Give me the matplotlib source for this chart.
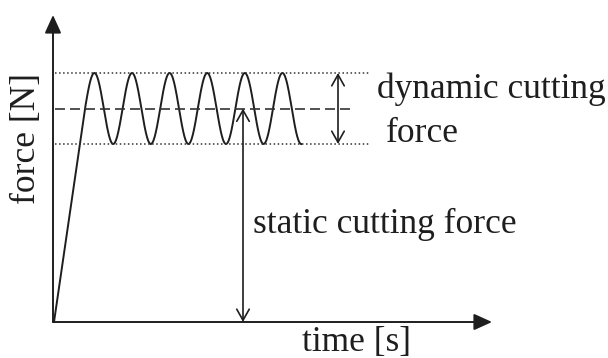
import numpy as np
import matplotlib.pyplot as plt

# schematic cutting force signal (arbitrary units)
ramp_time = [1, 32]          # start / end of the force build-up
static_force = 213.5         # mean (static) cutting force
dynamic_amp = 35.5           # amplitude of the dynamic part
period = 37.6                # oscillation period
n_periods = 5.75             # oscillations shown after the ramp
t_max, f_max = 439, 307      # axis lengths

plt.rcParams['font.family'] = ['Liberation Serif', 'DejaVu Serif']

fig = plt.figure(figsize=(6.08, 3.58), dpi=100)
ax = fig.add_axes([53 / 608, 36 / 358, 439 / 608, 307 / 358])
ax.set_xlim(0, t_max)
ax.set_ylim(0, f_max)
ax.axis('off')

# force signal: ramp then sine around the static level
t_sin = np.linspace(ramp_time[1], ramp_time[1] + n_periods * period, 600)
f_sin = static_force + dynamic_amp * np.sin(2 * np.pi * (t_sin - ramp_time[1]) / period)
t = np.concatenate([ramp_time, t_sin])
f = np.concatenate([[0, static_force], f_sin])
ax.plot(t, f, color='#1e1e1e', lw=1.4, clip_on=False)

# reference lines
f_top = static_force + dynamic_amp
f_bot = static_force - dynamic_amp
ax.hlines([f_top, f_bot], 2, 317, colors='#333333', linestyles=':', lw=1.1)
ax.hlines(static_force, 2, 297, colors='#333333', linestyles=(0, (6, 3)), lw=1.2)

# coordinate axes with filled arrowheads
ax_arrow = dict(arrowstyle='-|>,head_length=1.1,head_width=0.5', mutation_scale=10,
                lw=1.4, color='#1e1e1e', shrinkA=0, shrinkB=0)
ax.annotate('', xy=(t_max, 0), xytext=(0, 0), arrowprops=ax_arrow, annotation_clip=False)
ax.annotate('', xy=(0, f_max), xytext=(0, 0), arrowprops=ax_arrow, annotation_clip=False)

# double arrows for static and dynamic force
dbl = dict(arrowstyle='<->,head_length=0.8,head_width=0.45', mutation_scale=10,
           lw=1.2, color='#1e1e1e', shrinkA=0, shrinkB=0)
ax.annotate('', xy=(190, static_force), xytext=(190, 0), arrowprops=dbl)
ax.annotate('', xy=(285, f_top), xytext=(285, f_bot), arrowprops=dbl, annotation_clip=False)

fs = 25.5
fig.text(377 / 608, 1 - 98 / 358, 'dynamic cutting', fontsize=fs, color='#1e1e1e',
         ha='left', va='baseline')
fig.text(386 / 608, 1 - 142 / 358, 'force', fontsize=fs, color='#1e1e1e',
         ha='left', va='baseline')
fig.text(253 / 608, 1 - 233 / 358, 'static cutting force', fontsize=fs, color='#1e1e1e',
         ha='left', va='baseline')
fig.text(302 / 608, 1 - 351 / 358, 'time [s]', fontsize=fs, color='#1e1e1e',
         ha='left', va='baseline')
fig.text(26 / 608, 1 - 138 / 358, 'force [N]', fontsize=fs, color='#1e1e1e',
         ha='center', va='center', rotation=90)

fig.savefig('out.png', dpi=100)
